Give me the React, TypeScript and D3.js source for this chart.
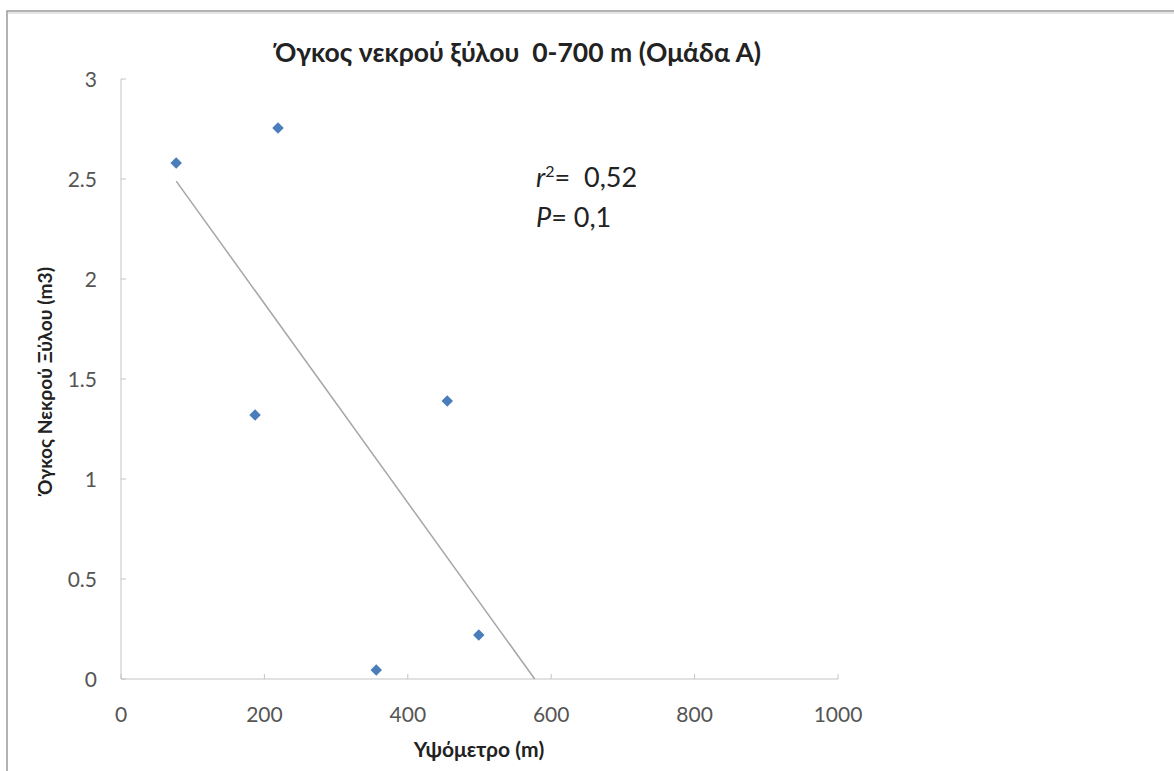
import React from "react";
import * as d3 from "d3";

const altitudes = [77, 219, 187, 455, 356, 499];
const volumes = [2.58, 2.755, 1.32, 1.39, 0.045, 0.22];
const xTicks = [0, 200, 400, 600, 800, 1000];
const yTicks = [0, 0.5, 1, 1.5, 2, 2.5, 3];
const yTickLabels = ["0", "0.5", "1", "1.5", "2", "2.5", "3"];
const title = "Όγκος νεκρού ξύλου  0-700 m (Ομάδα Α)";
const xTitle = "Υψόμετρο (m)";
const yTitle = "Όγκος Νεκρού Ξύλου (m3)";

const W = 1174;
const H = 771;
const FONT = "Lato, 'Open Sans', sans-serif";

export default function App() {
  const x = d3.scaleLinear().domain([0, 1000]).range([121, 838]);
  const y = d3.scaleLinear().domain([0, 3]).range([679, 79]);

  // linear regression for trend line
  const mx = d3.mean(altitudes) as number;
  const my = d3.mean(volumes) as number;
  let sxy = 0, sxx = 0;
  altitudes.forEach((a, i) => {
    sxy += (a - mx) * (volumes[i] - my);
    sxx += (a - mx) * (a - mx);
  });
  const slope = sxy / sxx;
  const intercept = my - slope * mx;
  const x0 = d3.min(altitudes) as number;
  const x1 = -intercept / slope;
  const line = d3.line<[number, number]>().x((d) => x(d[0])).y((d) => y(d[1]));
  const trend = line([
    [x0, intercept + slope * x0],
    [x1, 0],
  ]);

  const diamond = d3.symbol().type(d3.symbolSquare).size(66)();

  return (
    <svg
      width={W}
      height={H}
      style={{ position: "absolute", left: 0, top: 0, background: "#fff", whiteSpace: "pre" }}
      fontFamily={FONT}
    >
      {/* frame */}
      <rect x={7} y={11} width={W + 10} height={H + 10} fill="none" stroke="#9a9a9a" strokeWidth={1.5} />
      <line x1={8} x2={W} y1={13} y2={13} stroke="#e6e6e6" strokeWidth={2} />

      {/* title */}
      <text x={518} y={62} textAnchor="middle" fontSize={26.5} fontWeight="bold" fill="#222" style={{ whiteSpace: "pre" }}>
        {title}
      </text>

      {/* axes */}
      <line x1={x(0)} x2={x(0)} y1={y(0)} y2={y(3)} stroke="#c4c4c4" strokeWidth={1} />
      <line x1={x(0)} x2={x(1000)} y1={y(0)} y2={y(0)} stroke="#c4c4c4" strokeWidth={1} />
      {yTicks.map((t, i) => (
        <g key={"y" + i}>
          <line x1={x(0)} x2={x(0) + 5} y1={y(t)} y2={y(t)} stroke="#c4c4c4" />
          <text x={97} y={y(t)} dy="0.36em" textAnchor="end" fontSize={21} fill="#555">
            {yTickLabels[i]}
          </text>
        </g>
      ))}
      {xTicks.map((t, i) => (
        <g key={"x" + i}>
          <line x1={x(t)} x2={x(t)} y1={y(0)} y2={y(0) - 5} stroke="#c4c4c4" />
          <text x={x(t)} y={722} textAnchor="middle" fontSize={21} fill="#555">
            {t}
          </text>
        </g>
      ))}

      {/* axis titles */}
      <text x={479} y={757} textAnchor="middle" fontSize={21} fontWeight="bold" fill="#222">
        {xTitle}
      </text>
      <text
        transform={`translate(52,381) rotate(-90)`}
        textAnchor="middle"
        fontSize={19.2}
        fontWeight="bold"
        fill="#222"
      >
        {yTitle}
      </text>

      {/* trend line */}
      <path d={trend || ""} fill="none" stroke="#a6a6a6" strokeWidth={1.5} />

      {/* points */}
      {altitudes.map((a, i) => (
        <path
          key={"p" + i}
          d={diamond || ""}
          transform={`translate(${x(a)},${y(volumes[i])}) rotate(45)`}
          fill="#4a7ebb"
        />
      ))}

      {/* annotation */}
      <text x={536} y={187} fontSize={27} fill="#222" style={{ whiteSpace: "pre" }}>
        <tspan fontStyle="italic">r</tspan>
        <tspan dy={-10} fontSize={16}>2</tspan>
        <tspan dy={10}>{"=  0,52"}</tspan>
      </text>
      <text x={536} y={227} fontSize={27} fill="#222" style={{ whiteSpace: "pre" }}>
        <tspan fontStyle="italic">P</tspan>
        <tspan>{"= 0,1"}</tspan>
      </text>
    </svg>
  );
}
